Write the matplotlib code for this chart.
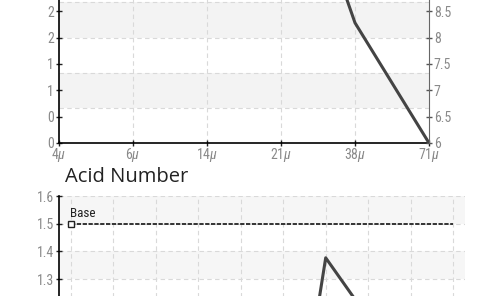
import matplotlib
matplotlib.use("Agg")
import matplotlib.pyplot as plt
import numpy as np
from matplotlib.ticker import FuncFormatter, FixedLocator

# top chart: particle size categories, right-axis series
sizes = ["4", "6", "14", "21", "38", "71"]
size_values = [14.0, 13.6, 13.0, 12.3, 8.28, 6.0]
left_ticks = [0, 0.5, 1, 1.5, 2, 2.5]
right_ticks = [6, 6.5, 7, 7.5, 8, 8.5]

# bottom chart: acid number
acid_labels = list(range(10))
acid_values = [0.6, 0.55, 0.5, 0.45, 0.42, 0.41, 1.377, 1.16, 1.0, 0.9]
base_value = 1.5
acid_ticks = [1.0, 1.1, 1.2, 1.3, 1.4, 1.5, 1.6]

plt.rcParams['font.family'] = ['Roboto Condensed', 'DejaVu Sans']
plt.rcParams['mathtext.fontset'] = 'custom'
plt.rcParams['mathtext.rm'] = 'Roboto Condensed'
plt.rcParams['mathtext.it'] = 'Roboto Condensed:italic'

fig = plt.figure(figsize=(4.9, 2.96), dpi=100)

tick_col = "#8a8a8a"
band_col = "#f3f3f3"
grid_col = "#d9d9d9"
line_col = "#444444"

# ---- top chart ----
ax = fig.add_axes([59 / 490, 153 / 296, 370 / 490, 175.7 / 296])
ax.set_xlim(0, len(sizes) - 1)
ax.set_ylim(0, 10 / 3)
band_edges = np.arange(0, 10 / 3 + 0.01, 2 / 3)
for i in range(len(band_edges) - 1):
    if i % 2 == 1:
        ax.axhspan(band_edges[i], band_edges[i + 1], color=band_col, lw=0, zorder=0)
for b in band_edges[1:]:
    ax.axhline(b, color=grid_col, lw=0.8, ls=(0, (4, 3)), zorder=0.5)
for i in range(1, len(sizes) - 1):
    ax.axvline(i, color=grid_col, lw=0.8, ls=(0, (4, 3)), zorder=0.5)

ax.set_xticks(range(len(sizes)))
ax.set_xticklabels([f"{s}$\\mu$" for s in sizes])
ax.yaxis.set_major_locator(FixedLocator(left_ticks))
ax.yaxis.set_major_formatter(FuncFormatter(lambda v, p: str(int(v))))
ax.tick_params(axis="both", direction="inout", length=5, width=1, colors="#222222",
               labelcolor=tick_col, labelsize=10, pad=1)
ax.tick_params(axis="x", pad=0)
for s in ["top", "right"]:
    ax.spines[s].set_visible(False)
ax.spines["left"].set_linewidth(1.2)
ax.spines["bottom"].set_linewidth(1.2)

ax2 = ax.twinx()
ax2.set_ylim(6, 6 + 10 / 3)
ax2.yaxis.set_major_locator(FixedLocator(right_ticks))
ax2.yaxis.set_major_formatter(FuncFormatter(lambda v, p: f"{v:g}"))
ax2.tick_params(axis="y", direction="inout", length=5, width=1, colors="#555555",
                labelcolor=tick_col, labelsize=10, pad=1)
for s in ["top", "left", "bottom"]:
    ax2.spines[s].set_visible(False)
ax2.spines["right"].set_color("#666666")
ax2.plot(range(len(sizes)), size_values, color=line_col, lw=2.2, solid_capstyle="round")

# ---- bottom chart ----
bx = fig.add_axes([59 / 490, -94 / 296, 406 / 490, 194 / 296])
bx.set_xlim(-0.28, len(acid_labels) - 1 + 0.28)
bx.set_ylim(0.9, 1.6)
for lo in [1.3, 1.5]:
    bx.axhspan(lo, lo + 0.1, color="#f6f6f6", lw=0, zorder=0)
for y in acid_ticks:
    bx.axhline(y, color=grid_col, lw=0.8, ls=(0, (4, 3)), zorder=0.5)
for i in acid_labels:
    bx.axvline(i, color=grid_col, lw=0.8, ls=(0, (4, 3)), zorder=0.5)
bx.set_yticks(acid_ticks)
bx.yaxis.set_major_formatter(FuncFormatter(lambda v, p: f"{v:.1f}"))
bx.set_xticks([])
bx.tick_params(axis="y", direction="inout", length=5, width=1, colors="#222222",
               labelcolor=tick_col, labelsize=10, pad=1)
for s in ["top", "right", "bottom"]:
    bx.spines[s].set_visible(False)
bx.spines["left"].set_linewidth(1.2)

bx.plot(acid_labels, [base_value] * len(acid_labels), color="#333333", lw=1.4,
        ls=(0, (2.2, 0.8)), zorder=3)
bx.plot([acid_labels[0]], [base_value], marker="s", ms=4.5, mfc="white", mec="#222222",
        mew=1, zorder=4)
bx.text(acid_labels[0] - 0.02, base_value + 0.012, "Base", fontsize=9.5, color="#222222",
        ha="left", va="bottom")
bx.plot(acid_labels, acid_values, color=line_col, lw=2.2, zorder=3)

fig.text(65 / 490, 1 - 182 / 296, "Acid Number", fontsize=14.5, color="#222222",
         family=["Open Sans", "DejaVu Sans"], ha="left", va="baseline")

fig.savefig("out.png", dpi=100)
